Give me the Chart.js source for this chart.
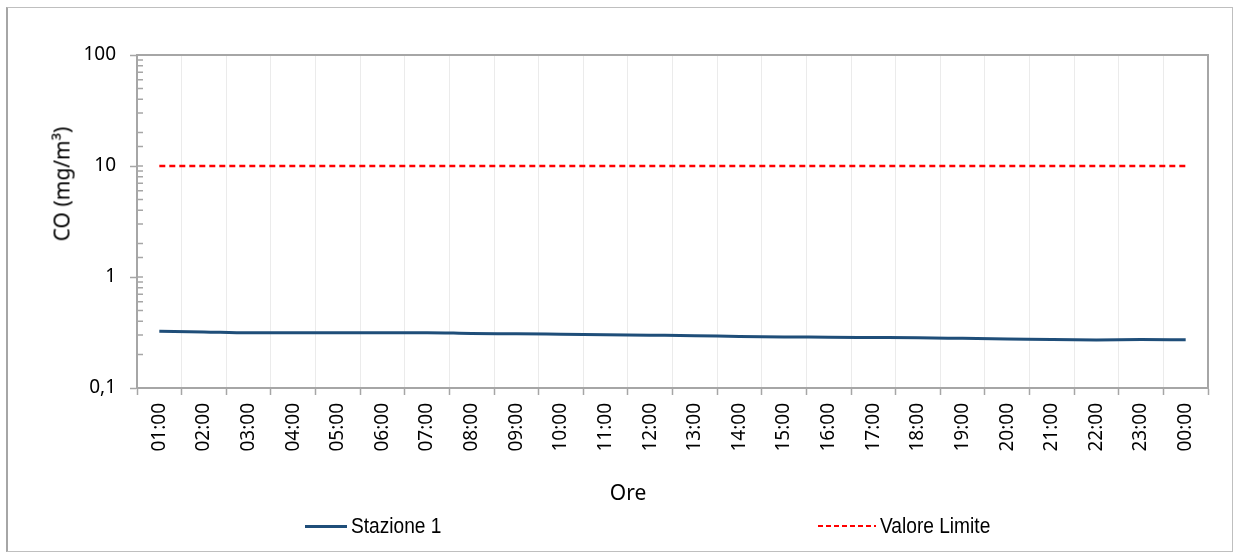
<!DOCTYPE html>
<html>
<head>
<meta charset="utf-8">
<script src="https://cdn.jsdelivr.net/npm/chart.js@4/dist/chart.umd.min.js"></script>
<style>
  html, body { margin: 0; padding: 0; background: #ffffff; }
  #wrap { position: relative; width: 1234px; height: 554px; overflow: hidden; background: #fff; }
  #frame { position: absolute; left: 6px; top: 7px; width: 1227px; height: 545px; border: 1px solid #bfbfbf; border-left: 2px solid #a6a6a6; box-sizing: border-box; }
  #cv { position: absolute; left: 0; top: 0; }
  .title { position: absolute; font-family: "Noto Sans", sans-serif; font-size: 21px; color: #000; white-space: nowrap; line-height: 1; }
  #ytitle { left: 62px; top: 184px; transform: translate(-50%, -50%) rotate(-90deg); }
  #xtitle { left: 628px; top: 492px; transform: translate(-50%, -50%); }
  .leg { position: absolute; top: 526px; display: flex; align-items: center; transform: translateY(-50%); font-family: "Liberation Sans Narrow", "Liberation Sans", sans-serif; font-size: 22px; color: #000; white-space: nowrap; }
  .leg .sample { height: 3px; margin-right: 4px; }
  .leg .txt { display: inline-block; transform: scaleX(0.87); transform-origin: left center; }
</style>
</head>
<body>
<div id="wrap">
  <div id="frame"></div>
  <canvas id="cv" width="1234" height="554"></canvas>
  <div id="ytitle" class="title">CO (mg/m³)</div>
  <div id="xtitle" class="title">Ore</div>
  <div id="legend"></div>
</div>
<script>
const hours = ['01:00','02:00','03:00','04:00','05:00','06:00','07:00','08:00','09:00','10:00','11:00','12:00',
               '13:00','14:00','15:00','16:00','17:00','18:00','19:00','20:00','21:00','22:00','23:00','00:00'];
const stazione1 = [0.325, 0.320, 0.314, 0.315, 0.315, 0.315, 0.315, 0.310, 0.308, 0.305, 0.302, 0.299,
                   0.296, 0.291, 0.288, 0.287, 0.285, 0.283, 0.280, 0.277, 0.273, 0.271, 0.273, 0.272];
const valoreLimite = [10, 10, 10, 10, 10, 10, 10, 10, 10, 10, 10, 10,
                      10, 10, 10, 10, 10, 10, 10, 10, 10, 10, 10, 10];
const yTickValues = [0.1, 1, 10, 100];
const yTickLabels = ['0,1', '1', '10', '100'];
const seriesNames = ['Stazione 1', 'Valore Limite'];

const AXIS = '#a6a6a6';
const isMajor = v => Math.abs(Math.log10(v) - Math.round(Math.log10(v))) < 1e-9;

const framePlugin = {
  id: 'framePlugin',
  afterDraw(chart) {
    const { ctx, chartArea: a, scales } = chart;
    const y = scales.y;
    ctx.save();
    ctx.strokeStyle = AXIS;
    ctx.lineWidth = 2;
    ctx.beginPath();
    ctx.moveTo(a.left, a.top);
    ctx.lineTo(a.right, a.top);
    ctx.lineTo(a.right, a.bottom);
    ctx.stroke();
    ctx.lineWidth = 1.5;
    ctx.beginPath();
    y.ticks.forEach(t => {
      const py = y.getPixelForValue(t.value);
      ctx.moveTo(a.left, py);
      ctx.lineTo(a.left + 6, py);
    });
    ctx.stroke();
    ctx.restore();
  }
};

const chart = new Chart(document.getElementById('cv'), {
  type: 'line',
  data: {
    labels: hours,
    datasets: [
      {
        label: seriesNames[0],
        data: stazione1,
        borderColor: '#1f4e79',
        borderWidth: 3,
        pointRadius: 0,
        cubicInterpolationMode: 'monotone',
        fill: false
      },
      {
        label: seriesNames[1],
        data: valoreLimite,
        borderColor: '#ff0000',
        borderWidth: 2.5,
        borderDash: [6, 4],
        pointRadius: 0,
        fill: false
      }
    ]
  },
  options: {
    responsive: false,
    animation: false,
    layout: { padding: { left: 20, right: 26, top: 55, bottom: 0 } },
    plugins: {
      legend: { display: false },
      tooltip: { enabled: false }
    },
    scales: {
      x: {
        type: 'category',
        offset: true,
        grid: {
          offset: true,
          color: '#ebebeb',
          lineWidth: 1,
          tickColor: AXIS,
          tickLength: 7,
          tickWidth: 1.5
        },
        border: { color: AXIS, width: 2 },
        ticks: {
          minRotation: 90,
          maxRotation: 90,
          autoSkip: false,
          padding: 8,
          color: '#000',
          font: { family: 'Noto Sans', size: 19 }
        },
        afterFit(scale) { scale.height = 166; }
      },
      y: {
        type: 'logarithmic',
        min: 0.1,
        max: 100,
        grid: {
          drawOnChartArea: false,
          tickLength: 7,
          tickWidth: 1.5,
          tickColor: ctx => (ctx.tick && isMajor(ctx.tick.value)) ? AXIS : 'rgba(0,0,0,0)'
        },
        border: { color: AXIS, width: 2 },
        ticks: {
          autoSkip: false,
          padding: 14,
          color: '#000',
          font: { family: 'Noto Sans', size: 19 },
          callback(value) {
            const i = yTickValues.findIndex(v => Math.abs(v - value) < 1e-9);
            return i >= 0 ? yTickLabels[i] : '';
          }
        },
        afterFit(scale) { scale.width = 117; }
      }
    }
  },
  plugins: [framePlugin]
});

// HTML legend built from the chart datasets
const legendPos = [{ left: 305, w: 42 }, { left: 818, w: 58 }];
const legend = document.getElementById('legend');
chart.data.datasets.forEach((ds, i) => {
  const item = document.createElement('div');
  item.className = 'leg';
  item.style.left = legendPos[i].left + 'px';
  const s = document.createElement('span');
  s.className = 'sample';
  s.style.width = legendPos[i].w + 'px';
  if (ds.borderDash) {
    s.style.background = `repeating-linear-gradient(to right, ${ds.borderColor} 0 5px, transparent 5px 8px)`;
    s.style.height = '2.5px';
  } else {
    s.style.background = ds.borderColor;
  }
  const t = document.createElement('span');
  t.className = 'txt';
  t.textContent = ds.label;
  item.appendChild(s);
  item.appendChild(t);
  legend.appendChild(item);
});
</script>
</body>
</html>
